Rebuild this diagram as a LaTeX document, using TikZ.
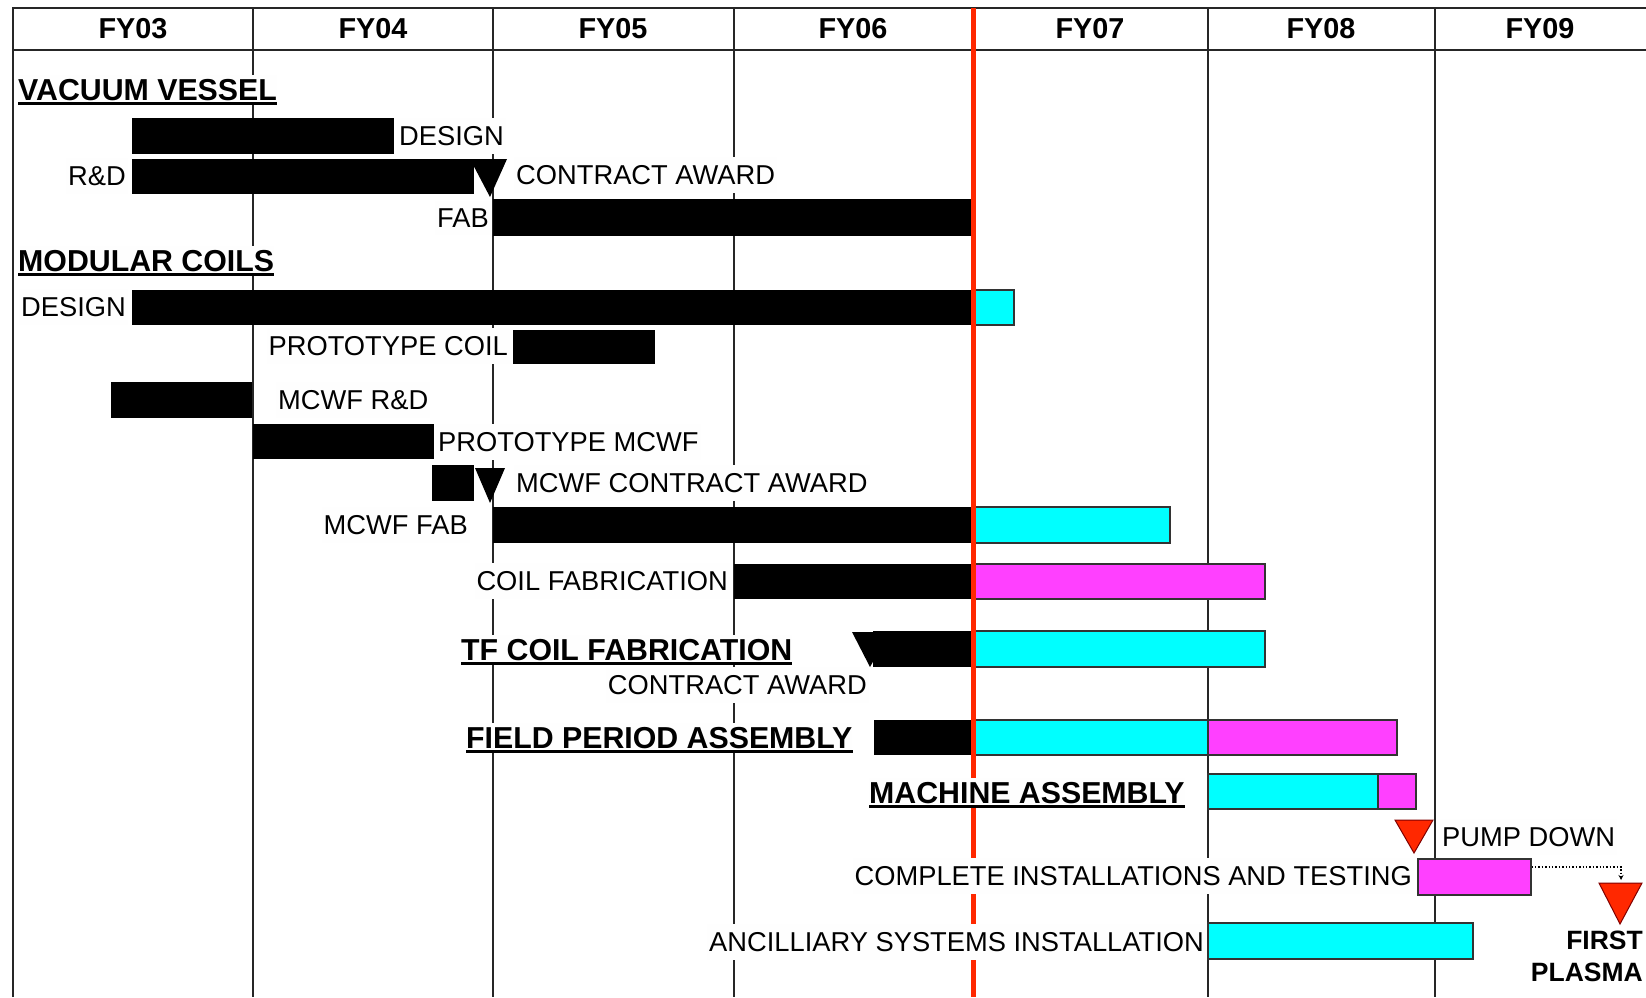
\documentclass[tikz,border=0pt]{standalone}
\usepackage{fontspec}
\setmainfont{Liberation Sans}
\usetikzlibrary{arrows.meta}

\definecolor{nowred}{RGB}{255,40,0}
\definecolor{barcyan}{RGB}{0,255,255}
\definecolor{barmag}{RGB}{255,64,255}
\definecolor{paper}{RGB}{254,254,254}

\tikzset{
  gridline/.style={line width=1.6pt,black!85},
  frameline/.style={line width=2.6pt,black!85},
  nowline/.style={line width=5pt,nowred},
  cyanbar/.style={fill=barcyan,draw=black!80,line width=1.5pt},
  magbar/.style={fill=barmag,draw=black!80,line width=1.5pt},
  redtri/.style={fill=nowred,draw=red!50!black,line width=1pt},
  yearhead/.style={font=\fontsize{28.8}{30}\selectfont\bfseries},
  lbl/.style={font=\fontsize{27.3}{30}\selectfont,fill=paper,inner xsep=2pt,inner ysep=8pt},
  heading/.style={font=\fontsize{30.3}{32}\selectfont\bfseries,fill=paper,inner xsep=0pt,inner ysep=4pt},
  uline/.style={line width=3pt}
}

\begin{document}
\begin{tikzpicture}[x=1pt,y=-1pt]
    \useasboundingbox (0,0) rectangle (1646,997);

    % year grid and frame
    \foreach \gx in {253,493,734,1208,1435}
        \draw[gridline] (\gx,8) -- (\gx,997);
    \draw[frameline] (13,997) -- (13,8) -- (1646,8);
    \draw[frameline] (13,50) -- (1646,50);

    \foreach \yr/\cx in {FY03/133,FY04/373,FY05/613,FY06/853,FY07/1090,FY08/1321,FY09/1540}
        \node[yearhead] (\yr) at (\cx,29) {\yr};

    % done work
    \foreach \xa/\ya/\xb/\yb in {132/118/394/154,132/159/474/194,493/199/973/236,
        132/290/973/325,513/330/655/364,111/382/252/418,253/424/434/459,
        432/465/474/501,493/507/973/543,734/564/973/599,873/631/973/667,874/720/973/755}
        \fill (\xa,\ya) rectangle (\xb,\yb);

    % still to do
    \foreach \xa/\ya/\xb/\yb in {973/290/1014/325,973/507/1170/543,973/631/1265/667,
        973/720/1208/755,1208/774/1378/809,1208/923/1473/959}
        \draw[cyanbar] (\xa,\ya) rectangle (\xb,\yb);
    \foreach \xa/\ya/\xb/\yb in {973/564/1265/599,1208/720/1397/755,1378/774/1416/809}
        \draw[magbar] (\xa,\ya) rectangle (\xb,\yb);
    \node[magbar,minimum width=113pt,minimum height=36pt,inner sep=0pt,anchor=north west] (testbar) at (1417,858) {};

    % milestones
    \fill (470,159) -- (507,159) -- (490,197) -- cycle;
    \fill (475,468) -- (505,468) -- (490,503) -- cycle;
    \fill (852,632) -- (890,632) -- (870,667) -- cycle;
    \draw[redtri] (1395,820) -- (1433,820) -- (1414,853) -- cycle;
    \draw[redtri] (1599,883) -- (1642,883) -- (1620,924) -- cycle;
    \coordinate (plasmatop) at (1621,880);
    \draw[line width=1.4pt,dotted,-{Stealth[length=5pt,width=5pt]}] ([yshift=-9pt]testbar.north east) -| (plasmatop);

    % today
    \draw[nowline] (973,8) -- (973,997);

    % labels
    \node[heading,anchor=west] (vv) at (18,90) {VACUUM VESSEL};
    \node[lbl,anchor=west] (vvdesign) at (397,136) {DESIGN};
    \node[lbl,anchor=east] (vvrd) at (128,176) {R\&D};
    \node[lbl,anchor=west] (vvaward) at (514,175) {CONTRACT AWARD};
    \node[lbl,anchor=east] (vvfab) at (491,218) {FAB};

    \node[heading,anchor=west] (mc) at (18,261) {MODULAR COILS};
    \node[lbl,anchor=east] (mcdesign) at (128,307) {DESIGN};
    \node[lbl,anchor=east] (protocoil) at (510,346) {PROTOTYPE COIL};
    \node[lbl,anchor=west] (mcwfrd) at (276,400) {MCWF R\&D};
    \node[lbl,anchor=west] (protomcwf) at (436,442) {PROTOTYPE MCWF};
    \node[lbl,anchor=west] (mcwfaward) at (514,483) {MCWF CONTRACT AWARD};
    \node[lbl,anchor=east] (mcwffab) at (470,525) {MCWF FAB};
    \node[lbl,anchor=east] (coilfab) at (730,581) {COIL FABRICATION};

    \node[heading,anchor=west] (tf) at (461,650) {TF COIL FABRICATION};
    \node[lbl,anchor=east] (tfaward) at (869,685) {CONTRACT AWARD};
    \node[heading,anchor=west] (fpa) at (466,738) {FIELD PERIOD ASSEMBLY};
    \node[heading,anchor=west] (ma) at (869,793) {MACHINE ASSEMBLY};
    \node[lbl,anchor=west] (pump) at (1440,837) {PUMP DOWN};
    \node[lbl,anchor=east] (testing) at (1414,876) {COMPLETE INSTALLATIONS AND TESTING};
    \node[lbl,anchor=east] (ancil) at (1206,942) {ANCILLIARY SYSTEMS INSTALLATION};
    \node[font=\fontsize{26.5}{32}\selectfont\bfseries,align=right,inner sep=0pt,anchor=north east] (plasma) at (1643,931) {FIRST\\PLASMA};

    \foreach \h in {vv,mc,tf,fpa,ma}
        \draw[uline] ([yshift=1pt]\h.south west) -- ([yshift=1pt]\h.south east);
\end{tikzpicture}
\end{document}
